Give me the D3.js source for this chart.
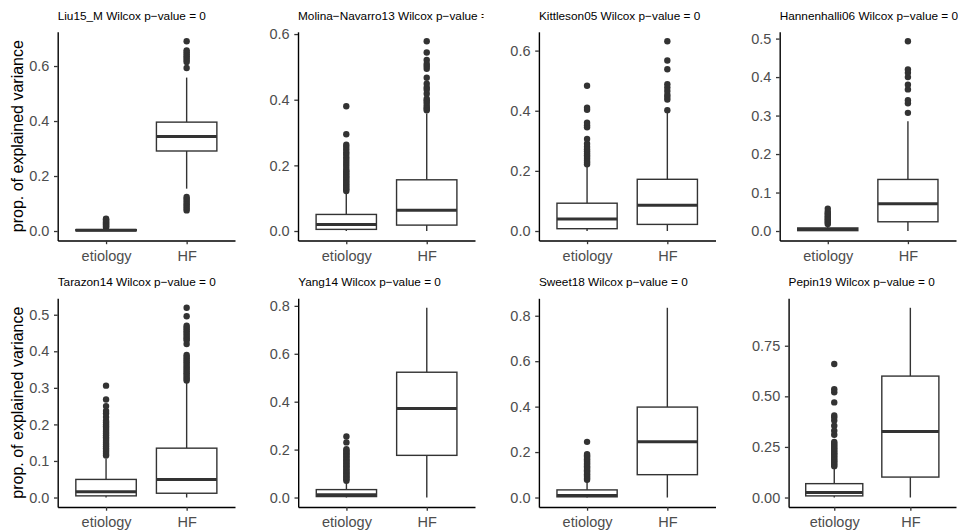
<!DOCTYPE html>
<html>
<head>
<meta charset="utf-8">
<script src="https://cdn.jsdelivr.net/npm/d3@7/dist/d3.min.js"></script>
<style>
  body { margin: 0; background: #fff; }
  svg { display: block; }
  text { font-family: "Liberation Sans", Arial, Helvetica, sans-serif; }
</style>
</head>
<body>
<svg id="chart" width="958" height="532"></svg>
<script>
// ---- data ----
const groups = ["etiology", "HF"];
const datasets = ["Liu15_M", "Molina\u2212Navarro13", "Kittleson05", "Hannenhalli06",
                  "Tarazon14", "Yang14", "Sweet18", "Pepin19"];
const pValues = [0, 0, 0, 0, 0, 0, 0, 0];

// box summaries: [lower whisker, Q1, median, Q3, upper whisker]
const etiologyStats = [
  [0, 0.001, 0.003, 0.005, 0.011],
  [0, 0.005, 0.020, 0.0505, 0.119],
  [0, 0.0077, 0.040, 0.0925, 0.2125],
  [0, 0.001, 0.004, 0.008, 0.016],
  [0, 0.0045, 0.016, 0.0495, 0.106],
  [0, 0.004, 0.012, 0.033, 0.066],
  [0, 0.003, 0.009, 0.0335, 0.074],
  [0, 0.008, 0.0245, 0.0685, 0.1435]
];
const hfStats = [
  [0.154, 0.291, 0.344, 0.396, 0.558],
  [0, 0.018, 0.0635, 0.156, 0.358],
  [0, 0.022, 0.086, 0.172, 0.397],
  [0, 0.024, 0.071, 0.134, 0.285],
  [0, 0.0117, 0.0495, 0.135, 0.3315],
  [0, 0.176, 0.372, 0.523, 0.792],
  [0, 0.1005, 0.245, 0.398, 0.835],
  [0, 0.101, 0.326, 0.600, 0.9375]
];

const etiologyOutliers = [
  [0.013, 0.016, 0.019, 0.022, 0.025, 0.028, 0.031, 0.034, 0.037, 0.040, 0.043, 0.045],
  [0.122, 0.127, 0.132, 0.137, 0.142, 0.147, 0.152, 0.157, 0.162, 0.167, 0.172, 0.177, 0.182,
   0.187, 0.195, 0.203, 0.21, 0.217, 0.225, 0.233, 0.24, 0.248, 0.256, 0.263, 0.295, 0.38],
  [0.222, 0.228, 0.234, 0.24, 0.246, 0.252, 0.258, 0.265, 0.272, 0.28, 0.29, 0.306,
   0.345, 0.352, 0.36, 0.403, 0.41, 0.483],
  [0.018, 0.022, 0.026, 0.03, 0.034, 0.038, 0.042, 0.046, 0.05, 0.058],
  [0.115, 0.12, 0.125, 0.13, 0.135, 0.14, 0.145, 0.15, 0.155, 0.16, 0.165, 0.17, 0.175, 0.18,
   0.185, 0.19, 0.195, 0.2, 0.205, 0.21, 0.22, 0.23, 0.237, 0.25, 0.268, 0.306],
  [0.07, 0.076, 0.082, 0.088, 0.094, 0.1, 0.106, 0.112, 0.118, 0.124, 0.13, 0.136, 0.142,
   0.148, 0.154, 0.16, 0.166, 0.172, 0.178, 0.184, 0.19, 0.196, 0.202, 0.23, 0.255],
  [0.078, 0.084, 0.09, 0.096, 0.102, 0.108, 0.114, 0.12, 0.126, 0.132, 0.138, 0.144, 0.15,
   0.156, 0.162, 0.168, 0.174, 0.18, 0.186, 0.191, 0.245],
  [0.155, 0.163, 0.171, 0.179, 0.187, 0.195, 0.203, 0.211, 0.219, 0.227, 0.235, 0.243, 0.251,
   0.259, 0.267, 0.275, 0.31, 0.33, 0.355, 0.38, 0.395, 0.405, 0.47, 0.52, 0.535, 0.66]
];
const hfOutliers = [
  [0.075, 0.082, 0.089, 0.096, 0.103, 0.11, 0.117, 0.124,
   0.593, 0.615, 0.622, 0.629, 0.636, 0.643, 0.65, 0.657, 0.69],
  [0.368, 0.373, 0.378, 0.385, 0.392, 0.398, 0.403, 0.418, 0.43, 0.437, 0.449, 0.467,
   0.494, 0.502, 0.509, 0.521, 0.544, 0.578],
  [0.402, 0.437, 0.446, 0.453, 0.466, 0.477, 0.488, 0.538, 0.567, 0.631],
  [0.307, 0.332, 0.34, 0.368, 0.38, 0.40, 0.411, 0.42, 0.493],
  [0.32, 0.325, 0.33, 0.335, 0.34, 0.345, 0.35, 0.355, 0.36, 0.365, 0.37, 0.375, 0.38, 0.385,
   0.39, 0.42, 0.43, 0.435, 0.44, 0.445, 0.45, 0.455, 0.46, 0.465, 0.47, 0.496, 0.519],
  [],
  [],
  []
];

const yTicks = [
  [0, 0.2, 0.4, 0.6],
  [0, 0.2, 0.4, 0.6],
  [0, 0.2, 0.4, 0.6],
  [0, 0.1, 0.2, 0.3, 0.4, 0.5],
  [0, 0.1, 0.2, 0.3, 0.4, 0.5],
  [0, 0.2, 0.4, 0.6, 0.8],
  [0, 0.2, 0.4, 0.6, 0.8],
  [0, 0.25, 0.5, 0.75]
];
const yTickFormats = [".1f", ".1f", ".1f", ".1f", ".1f", ".1f", ".1f", ".2f"];
const yTitle = "prop. of explained variance";

// ---- layout ----
const rowTop = [31.8, 298.3];
const rowBottom = [240.5, 507];
const panelLeft = [57.7, 298, 538.9, 779.7, 57.7, 298.2, 538.9, 788.6];
const colRight = [235, 475, 715.5, 956];
const cellLeft = [0, 241, 483.5, 724];
const cellRight = [241, 483.5, 724, 958];

const ink = "#333333";
const tickText = "#4d4d4d";

const svg = d3.select("#chart");
svg.append("rect").attr("width", 958).attr("height", 532).attr("fill", "#fff");
const defs = svg.append("defs");

datasets.forEach((name, i) => {
  const row = Math.floor(i / 4), col = i % 4;
  const top = rowTop[row], bottom = rowBottom[row];
  const left = panelLeft[i], right = colRight[col];

  const es = etiologyStats[i], hs = hfStats[i];
  const eo = etiologyOutliers[i], ho = hfOutliers[i];
  const all = es.concat(hs, eo, ho);
  const lo = d3.min(all), hi = d3.max(all), pad = (hi - lo) * 0.05;

  const x = d3.scalePoint().domain(groups).range([left, right]).padding(0.6);
  const y = d3.scaleLinear().domain([lo - pad, hi + pad]).range([bottom, top]);
  const bw = x.step() * 0.75;

  const g = svg.append("g");

  // panel title, clipped to its cell
  const clipId = "clip" + i;
  defs.append("clipPath").attr("id", clipId)
    .append("rect")
    .attr("x", cellLeft[col]).attr("y", top - 32)
    .attr("width", cellRight[col] - cellLeft[col]).attr("height", 32);
  g.append("text")
    .attr("clip-path", `url(#${clipId})`)
    .attr("x", left).attr("y", top - 12)
    .attr("font-size", "11.8px").attr("fill", "#000")
    .text(`${name} Wilcox p\u2212value = ${pValues[i]}`);

  // boxes
  const boxes = [
    { group: groups[0], s: es, out: eo },
    { group: groups[1], s: hs, out: ho }
  ];
  boxes.forEach(b => {
    const cx = x(b.group);
    const bg = g.append("g");
    bg.selectAll("circle").data(b.out).join("circle")
      .attr("cx", cx).attr("cy", d => y(d)).attr("r", 3.2)
      .attr("fill", ink);
    bg.append("line")
      .attr("x1", cx).attr("x2", cx).attr("y1", y(b.s[3])).attr("y2", y(b.s[4]))
      .attr("stroke", ink).attr("stroke-width", 1.4);
    bg.append("line")
      .attr("x1", cx).attr("x2", cx).attr("y1", y(b.s[1])).attr("y2", y(b.s[0]))
      .attr("stroke", ink).attr("stroke-width", 1.4);
    bg.append("rect")
      .attr("x", cx - bw / 2).attr("width", bw)
      .attr("y", y(b.s[3])).attr("height", Math.max(0, y(b.s[1]) - y(b.s[3])))
      .attr("fill", "#fff").attr("stroke", ink).attr("stroke-width", 1.4);
    bg.append("line")
      .attr("x1", cx - bw / 2).attr("x2", cx + bw / 2)
      .attr("y1", y(b.s[2])).attr("y2", y(b.s[2]))
      .attr("stroke", ink).attr("stroke-width", 3);
  });

  // y axis
  const ya = g.append("g").attr("transform", `translate(${left},0)`)
    .call(d3.axisLeft(y).tickValues(yTicks[i]).tickFormat(d3.format(yTickFormats[i]))
      .tickSize(3.7).tickSizeOuter(0).tickPadding(4.7));
  ya.select(".domain").attr("stroke", "#000").attr("stroke-width", 1.4);
  ya.selectAll(".tick line").attr("stroke", ink).attr("stroke-width", 1.3);
  ya.selectAll(".tick text").attr("font-size", "14.5px").attr("fill", tickText)
    .attr("font-family", null);
  ya.attr("font-family", null).attr("font-size", null);

  // x axis
  const xa = g.append("g").attr("transform", `translate(0,${bottom})`)
    .call(d3.axisBottom(x).tickSize(3.7).tickSizeOuter(0));
  xa.select(".domain").attr("stroke", "#000").attr("stroke-width", 1.4);
  xa.selectAll(".tick line").attr("stroke", ink).attr("stroke-width", 1.3);
  xa.selectAll(".tick text").attr("font-size", "14.5px").attr("fill", tickText)
    .attr("y", 20).attr("dy", null);
  xa.attr("font-family", null).attr("font-size", null);

  // y axis title on the first column
  if (col === 0) {
    const cy = (top + bottom) / 2;
    g.append("text")
      .attr("transform", `translate(23,${cy}) rotate(-90)`)
      .attr("text-anchor", "middle")
      .attr("font-size", "16px").attr("fill", "#000")
      .text(yTitle);
  }
});
</script>
</body>
</html>
